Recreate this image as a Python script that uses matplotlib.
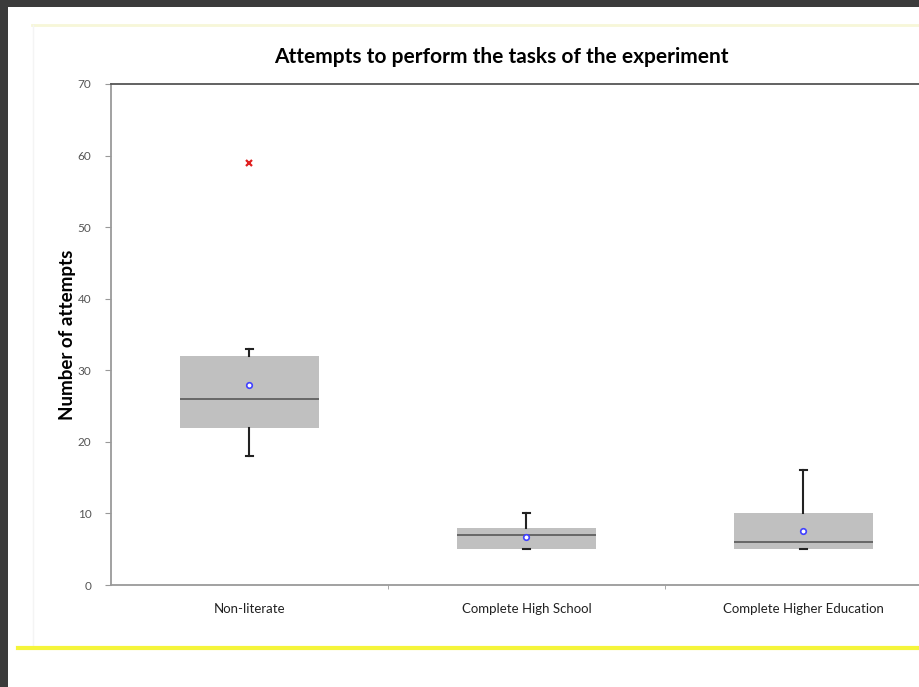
import matplotlib
matplotlib.use("Agg")
import matplotlib.pyplot as plt
from matplotlib.patches import Rectangle
from matplotlib.lines import Line2D

plt.rcParams['font.family'] = ['Lato', 'DejaVu Sans']

# box plot summary
groups = ["Non-literate", "Complete High School", "Complete Higher Education"]
q1 = [22, 5, 5]
medians = [26, 7, 6]
q3 = [32, 8, 10]
whisk_lo = [18, 5, 5]
whisk_hi = [33, 10, 16]
means = [28, 6.7, 7.6]
outliers = [[59], [], []]

W, H = 920, 687
fig = plt.figure(figsize=(W / 100, H / 100), dpi=100, facecolor="white")

# dark screenshot frame, left and top
fig.add_artist(Rectangle((0, 0), 8 / W, 1, transform=fig.transFigure, color="#3b3b3b", lw=0))
fig.add_artist(Rectangle((0, 1 - 7 / H), 1, 7 / H, transform=fig.transFigure, color="#3b3b3b", lw=0))
# yellow rules
fig.add_artist(Line2D([32 / W, 1], [1 - 25 / H] * 2, transform=fig.transFigure, color="#f7f7d8", lw=2))
fig.add_artist(Line2D([33 / W, 33 / W], [1 - 25 / H, 1 - 645 / H], transform=fig.transFigure, color="#f4f4f4", lw=1))
fig.add_artist(Line2D([18 / W, 1], [1 - 648 / H] * 2, transform=fig.transFigure, color="#f5f53a", lw=3))

left, right = 111 / W, 942 / W
bottom, top = 1 - 585 / H, 1 - 84 / H
ax = fig.add_axes([left, bottom, right - left, top - bottom])

stats = []
for i, g in enumerate(groups):
    stats.append(dict(label=g, q1=q1[i], med=medians[i], q3=q3[i],
                      whislo=whisk_lo[i], whishi=whisk_hi[i],
                      mean=means[i], fliers=outliers[i]))

ax.bxp(stats, positions=[1, 2, 3], widths=0.5, patch_artist=True,
       showmeans=True, capwidths=0.022,
       boxprops=dict(facecolor="#c0c0c0", edgecolor="#c0c0c0", lw=0),
       medianprops=dict(color="#606060", lw=1.3),
       whiskerprops=dict(color="#222222", lw=1.5),
       capprops=dict(color="#222222", lw=1.5),
       meanprops=dict(marker="o", markerfacecolor="white", markeredgecolor="#4040ff",
                      markersize=4, markeredgewidth=1.2),
       flierprops=dict(marker="x", markeredgecolor="#e02020", markersize=4, markeredgewidth=1.6))

ax.set_xlim(0.5, 3.5)
ax.set_ylim(0, 70)
ax.set_yticks(range(0, 71, 10))
ax.set_xticks([1, 2, 3])
ax.set_xticklabels(groups)
ax.set_xticks([1.5, 2.5], minor=True)
ax.tick_params(axis="x", which="major", length=0, pad=13, labelsize=9.5, labelcolor="#222222")
ax.tick_params(axis="x", which="minor", length=3, color="#999999")
ax.tick_params(axis="y", length=4, color="#999999", labelsize=8.5, labelcolor="#555555", pad=10)

for s in ["left", "bottom"]:
    ax.spines[s].set_color("#9a9a9a")
    ax.spines[s].set_linewidth(1.3)
ax.spines["top"].set_color("#555555")
ax.spines["top"].set_linewidth(1.3)
ax.spines["right"].set_visible(False)

ax.set_ylabel("Number of attempts", fontsize=13.5, fontweight="bold", labelpad=1)
fig.text(501 / W, 1 - 57 / H, "Attempts to perform the tasks of the experiment",
         ha="center", va="center", fontsize=15, fontweight="bold")

fig.savefig("out.png", dpi=100, facecolor="white")
